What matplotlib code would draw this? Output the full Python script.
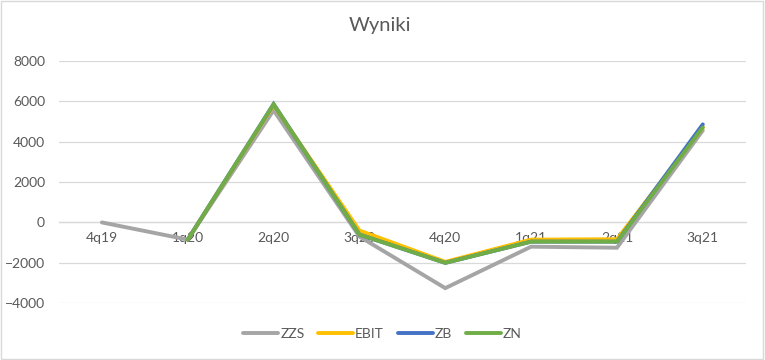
import matplotlib.pyplot as plt
from matplotlib.patches import Rectangle
import numpy as np

# Kategorien (Quartale)
quartals = ['4q19', '1q20', '2q20', '3q20', '4q20', '1q21', '2q21', '3q21']

# Werte der Serien
zzs = [0, -850, 5550, -700, -3250, -1200, -1250, 4550]
ebit = [np.nan, -850, 5800, -400, -1950, -850, -830, 4700]
zb = [np.nan, -850, 5850, -600, -2000, -950, -950, 4850]
zn = [np.nan, -850, 5850, -600, -2000, -950, -950, 4700]

series_names = ['ZZS', 'EBIT', 'ZB', 'ZN']
series_colors = ['#A5A5A5', '#FFC000', '#4472C4', '#70AD47']

y_ticks = [-4000, -2000, 0, 2000, 4000, 6000, 8000]

plt.rcParams['font.family'] = ['Lato', 'DejaVu Sans']
text_color = '#595959'
grid_color = '#D9D9D9'

fig = plt.figure(figsize=(7.65, 3.6), dpi=100)
ax = fig.add_axes([0.0771, 0.1575, 0.8977, 0.6739])

x = np.arange(len(quartals))
for values, name, color in zip([zzs, ebit, zb, zn], series_names, series_colors):
    ax.plot(x, values, color=color, linewidth=2.8, label=name,
            solid_capstyle='round', solid_joinstyle='miter')

ax.set_xlim(-0.5, len(quartals) - 0.5)
ax.set_ylim(-4000, 8000)
ax.set_yticks(y_ticks)
ax.set_xticks(x)
ax.set_xticklabels(quartals)

# Gitterlinien
ax.yaxis.grid(True, color=grid_color, linewidth=0.9)
ax.set_axisbelow(True)

for side in ['top', 'right', 'left']:
    ax.spines[side].set_visible(False)
ax.spines['bottom'].set_position(('data', 0))
ax.spines['bottom'].set_color(grid_color)
ax.spines['bottom'].set_linewidth(0.9)
ax.spines['bottom'].set_zorder(0)

ax.tick_params(axis='both', length=0, labelsize=10, colors=text_color)
ax.tick_params(axis='y', pad=10)
ax.tick_params(axis='x', pad=7)

fig.text(0.497, 0.93, 'Wyniki', ha='center', va='center',
         fontsize=14.5, color=text_color)

fig.legend(loc='center', bbox_to_anchor=(0.5, 1 - 334.3 / 360), ncol=4,
           frameon=False, fontsize=10, handlelength=2.5, handletextpad=0.15,
           columnspacing=1.0, labelcolor=text_color)

# Rahmen um das Diagramm
fig.patches.append(Rectangle((0.001, 0.002), 0.996, 0.995, transform=fig.transFigure,
                             fill=False, edgecolor=grid_color, linewidth=1))

fig.savefig('out.png', dpi=100)
